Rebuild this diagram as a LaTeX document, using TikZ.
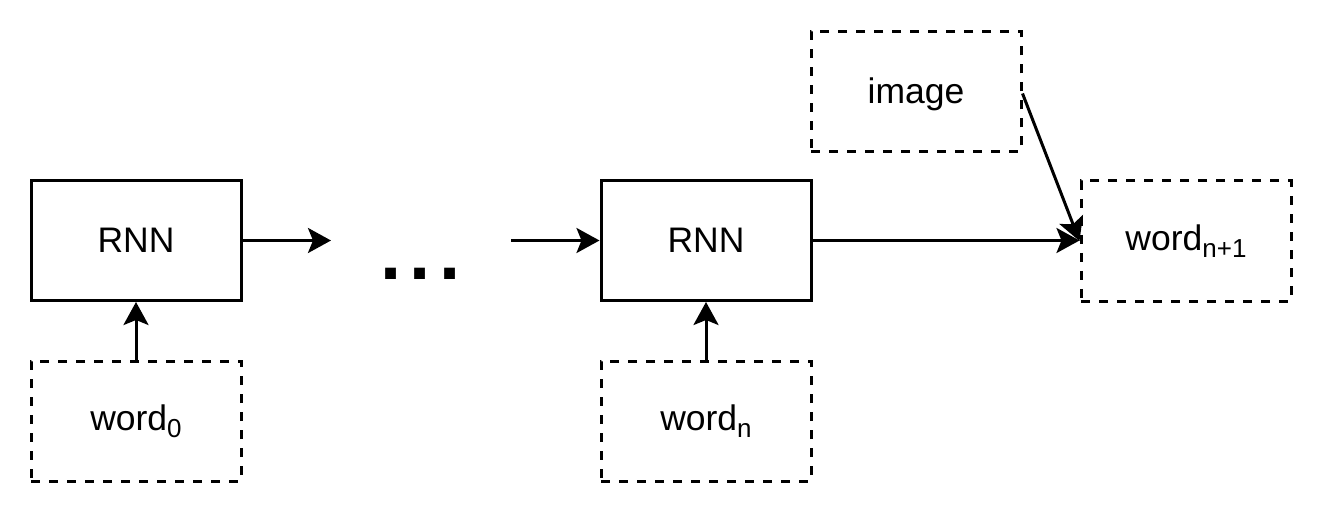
\documentclass[tikz,border=0pt]{standalone}
\usepackage{fontspec}
\setmainfont{Liberation Sans}
\usetikzlibrary{arrows.meta}
\newcommand{\wsub}[1]{{\fontsize{26}{26}\selectfont\raisebox{-7pt}{#1}}}
\tikzset{
  solidbox/.style={draw, rectangle, line width=3pt, minimum width=210pt, minimum height=120pt, inner sep=0pt, font=\fontsize{35.5}{40}\selectfont},
  dashbox/.style={solidbox, dash pattern=on 9pt off 9pt},
  conn/.style={line width=3pt, -{Stealth[length=23pt, width=25pt, inset=5pt]}},
}
\begin{document}
\begin{tikzpicture}[x=1pt, y=-1pt]
\useasboundingbox (0,0) rectangle (1323,513);
\node[solidbox] (r1) at (136,240.5) {RNN};
\node[solidbox] (r2) at (706,240.5) {RNN};
\node[dashbox] (w0) at (136,421) {word\wsub{0}};
\node[dashbox] (wn) at (706,421) {word\wsub{n}};
\node[dashbox] (img) at (916,91.5) {\raisebox{-2.5pt}[\height][\depth]{image}};
\node[dashbox] (wn1) at (1186,241) {word\wsub{n+1}};
\node[anchor=base, inner sep=0pt, font=\fontsize{76}{76}\selectfont\bfseries] (dots) at (420.2,279.3) {.\kern8.5pt.\kern8.5pt.};
\coordinate (d1) at (331,240.5);
\coordinate (d2) at (511,240.5);
\draw[conn] (w0.north) -- (r1.south);
\draw[conn] (wn.north) -- (r2.south);
\draw[conn] (r1.east) -- (d1);
\draw[conn] (d2) -- (r2.west);
\draw[conn] (r2.east) -- (r2.east -| wn1.west);
\draw[conn] ([yshift=-2pt]img.east) -- (wn1.west);
\end{tikzpicture}
\end{document}
